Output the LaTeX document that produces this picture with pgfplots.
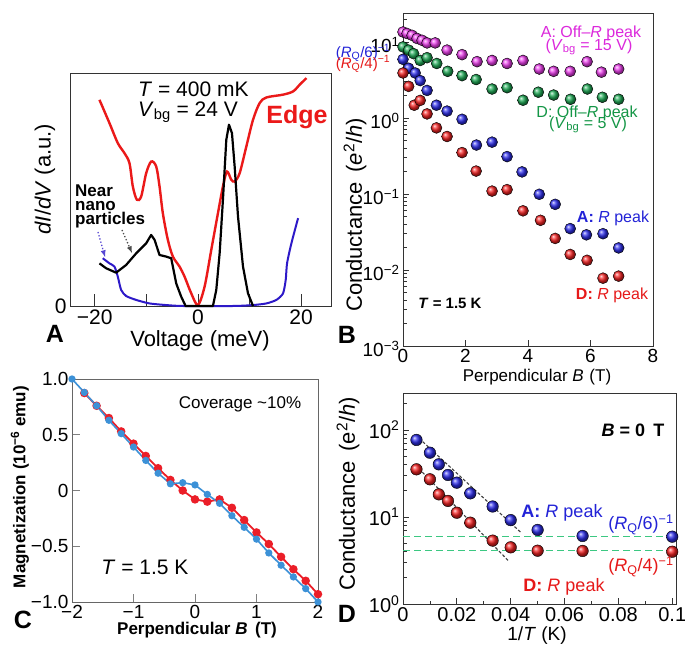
\documentclass[border=0pt]{standalone}
\usepackage{fontspec}
\setmainfont{Liberation Sans}
\usepackage{pgfplots}
\pgfplotsset{compat=1.18}
\definecolor{aRed}{RGB}{235,25,25}
\definecolor{aBlue}{RGB}{45,25,200}
\definecolor{bMag}{RGB}{235,60,235}
\definecolor{bGreen}{RGB}{30,170,85}
\definecolor{bBlue}{RGB}{45,45,235}
\definecolor{bRed}{RGB}{245,35,35}
\definecolor{tMag}{RGB}{220,40,220}
\definecolor{tGreen}{RGB}{20,150,70}
\definecolor{tBlue}{RGB}{35,35,215}
\definecolor{tRed}{RGB}{230,25,25}
\definecolor{cRed}{RGB}{235,30,40}
\definecolor{cBlue}{RGB}{60,145,215}
\definecolor{dGreen}{RGB}{60,200,130}
\newcommand{\fs}[1]{\fontsize{#1}{#1}\selectfont}
\pgfplotsset{
  panel/.style={scale only axis, anchor=south west, clip=false,
    tick align=inside, xtick pos=bottom, ytick pos=left,
    axis line style={line width=0.9pt, black!80},
    tick style={line width=0.8pt, black!80}},
}
\begin{document}
\begin{tikzpicture}[x=1pt,y=1pt]
\useasboundingbox (0,0) rectangle (685,645);
\fill[white] (0,0) rectangle (685,645);

% ---------------- Panel A ----------------
\begin{axis}[panel, at={(70pt,339pt)}, width=261pt, height=233pt,
  xmin=-24.8, xmax=25.8, ymin=0, ymax=1,
  xtick={-20,0,20}, xticklabels={−20,0,20}, minor xtick={-10,10},
  ytick={0}, yticklabels={0},
  major tick length=12pt, minor tick length=12pt,
  ticklabel style={font=\fs{21}}]
\addplot[aBlue, line width=2pt, smooth, tension=0.4] coordinates {
(-18.45,0.205) (-17.15,0.183) (-16.18,0.169) (-15.53,0.126) (-14.89,0.069)
(-13.92,0.043) (-11.97,0.026) (-9.39,0.011) (-6.15,0.004) (-2.91,0)
(6.80,0) (10.68,0.004) (13.27,0.011) (15.21,0.026) (16.50,0.054)
(17.02,0.112) (17.28,0.183) (18.12,0.269) (19.42,0.377)};
\addplot[aRed, line width=2.4pt, smooth, tension=0.5] coordinates {
(-19.09,0.885) (-17.15,0.785) (-15.53,0.699) (-14.24,0.656) (-13.27,0.613)
(-12.62,0.513) (-11.84,0.456) (-11.00,0.470) (-10.03,0.570) (-9.06,0.620)
(-8.09,0.599) (-7.44,0.513) (-6.80,0.398) (-5.83,0.284) (-4.85,0.212)
(-3.56,0.169) (-2.59,0.126) (-1.29,0.054) (0,0.004) (1.29,0.083)
(2.59,0.241) (3.88,0.398) (4.85,0.513) (5.63,0.577) (6.47,0.542)
(7.12,0.534) (8.09,0.570) (9.39,0.685) (10.68,0.799) (11.97,0.871)
(13.27,0.895) (16.50,0.907) (18.45,0.921) (19.74,0.950) (21.04,0.978)};
\addplot[black, line width=2.2pt, line join=round] coordinates {
(-19.09,0.183) (-17.8,0.162) (-15.86,0.143) (-13.92,0.176) (-11.97,0.226)
(-10.03,0.269) (-9.06,0.305) (-8.41,0.284) (-7.44,0.219) (-6.15,0.212)
(-5.18,0.205) (-4.21,0.097) (-3.24,0.040) (-2.39,0) (2.91,0)
(3.56,0.069) (4.21,0.226) (4.85,0.456) (5.50,0.713) (6.02,0.778)
(6.60,0.742) (7.12,0.599) (7.77,0.384) (8.74,0.169) (9.71,0.054) (10.68,0)};
\end{axis}
\node[rotate=90, font=\fs{22}] at (45,466) {\textit{dI}/\textit{dV} (a.u.)};
\node[font=\fs{22}] at (200,304) {Voltage (meV)};
\node[anchor=west, font=\fs{21}, inner sep=0] at (138,556) {\textit{T} = 400 mK};
\node[anchor=west, font=\fs{21}, inner sep=0] at (138,533) {\textit{V}\textsubscript{bg} = 24 V};
\node[aRed, font=\bfseries\fs{25}] at (297,528) {Edge};
\node[anchor=base west, font=\bfseries\fs{17}, inner sep=0] at (75,448) {Near};
\node[anchor=base west, font=\bfseries\fs{17}, inner sep=0] at (75,434) {nano};
\node[anchor=base west, font=\bfseries\fs{17}, inner sep=0] at (75,420) {particles};
\draw[aBlue!80, dotted, line width=1.3pt, -latex] (98,413) -- (105,388);
\draw[black!70, dotted, line width=1.3pt, -latex] (122,415) -- (132,392);
\node[font=\bfseries\fs{25}] at (55,311) {A};

% ---------------- Panel B ----------------
\begin{axis}[panel, at={(403pt,299pt)}, width=250pt, height=333pt,
  ymode=log, xmin=0, xmax=8, ymin=1e-3, ymax=24,
  xtick={0,2,4,6,8}, xticklabels={0,2,4,6,8},
  ytick={1e-3,1e-2,1e-1,1,10},
  yticklabels={10\textsuperscript{−3},10\textsuperscript{−2},10\textsuperscript{−1},10\textsuperscript{0},10\textsuperscript{1}},
  minor ytick={2e-3,3e-3,4e-3,5e-3,6e-3,7e-3,8e-3,9e-3,2e-2,3e-2,4e-2,5e-2,6e-2,7e-2,8e-2,9e-2,0.2,0.3,0.4,0.5,0.6,0.7,0.8,0.9,2,3,4,5,6,7,8,9,20},
  major tick length=6pt, minor tick length=3.5pt,
  ticklabel style={font=\fs{19}},
  yticklabel style={yshift=-3pt}]
\addplot[only marks, mark=ball, mark size=5.5pt, mark options={ball color=bMag}] coordinates {
(0,13.5) (0.13,12.9) (0.29,12.2) (0.45,11.1) (0.61,10.5) (0.77,9.7) (1.03,9.7)
(1.41,7.8) (1.89,6.8) (2.37,5.5) (2.85,5.7) (3.33,5.2) (3.84,5.7) (4.36,4.4)
(4.82,4.1) (5.35,4.1) (5.89,5.5) (6.35,4.0) (6.90,4.4)};
\addplot[only marks, mark=ball, mark size=5.5pt, mark options={ball color=bGreen}] coordinates {
(0,8.6) (0.18,7.8) (0.34,7.0) (0.55,5.7) (0.77,6.2) (1.08,5.2) (1.43,4.1)
(1.89,3.6) (2.34,3.2) (2.85,2.4) (3.33,2.5) (3.84,1.71) (4.33,2.18) (4.82,2.0)
(5.36,1.76) (5.90,2.4) (6.38,1.87) (6.90,1.76)};
\addplot[only marks, mark=ball, mark size=5.5pt, mark options={ball color=bBlue}] coordinates {
(0,5.9) (0.18,4.5) (0.39,3.9) (0.55,3.1) (0.77,2.3) (1.07,1.47) (1.41,1.23)
(1.89,0.96) (2.35,0.44) (2.85,0.48) (3.33,0.31) (3.81,0.195) (4.36,0.099)
(4.87,0.073) (5.35,0.035) (5.87,0.029) (6.40,0.030) (6.90,0.0195)};
\addplot[only marks, mark=ball, mark size=5.5pt, mark options={ball color=bRed}] coordinates {
(0,3.9) (0.18,2.6) (0.36,1.47) (0.55,1.7) (0.77,1.13) (1.07,0.74) (1.41,0.57)
(1.89,0.35) (2.34,0.20) (2.85,0.109) (3.33,0.114) (3.84,0.060) (4.40,0.045)
(4.87,0.026) (5.35,0.016) (5.89,0.0134) (6.40,0.0078) (6.90,0.0083)};
\end{axis}
\node[rotate=90, font=\fs{22}] at (355,430) {Conductance \,(\textit{e}\textsuperscript{2}/\textit{h})};
\node[font=\fs{17}] at (537,268) {Perpendicular \textit{B}\,\,(T)};
\node[tBlue, font=\fs{15}, inner sep=0] at (363,592) {(\textit{R}\textsubscript{Q}/6)\textsuperscript{−1}};
\node[tRed, font=\fs{15}, inner sep=0] at (363,581) {(\textit{R}\textsubscript{Q}/4)\textsuperscript{−1}};
\node[tMag, font=\fs{16}, inner sep=0] at (591,612) {A: Off–\textit{R} peak};
\node[tMag, font=\fs{16}, inner sep=0] at (589,598) {(\textit{V}\textsubscript{bg} = 15 V)};
\node[tGreen, font=\fs{16}, inner sep=0] at (587,532) {D: Off–\textit{R} peak};
\node[tGreen, font=\fs{16}, inner sep=0] at (588,520) {(\textit{V}\textsubscript{bg} = 5 V)};
\node[tBlue, font=\fs{16}, inner sep=0] at (613,427) {\textbf{A:} \textit{R} peak};
\node[tRed, font=\fs{16}, inner sep=0] at (612,350) {\textbf{D:} \textit{R} peak};
\node[font=\bfseries\fs{15}, inner sep=0] at (450,342) {\textit{T} = 1.5 K};
\node[font=\bfseries\fs{25}] at (347,310) {B};

% ---------------- Panel C ----------------
\begin{axis}[panel, at={(72pt,43pt)}, width=246pt, height=223pt,
  xmin=-2, xmax=2, ymin=-1, ymax=1,
  xtick={-2,-1,0,1,2}, xticklabels={−2,−1,0,1,2},
  ytick={-1,-0.5,0,0.5,1}, yticklabels={−1.0,−0.5,0,0.5,1.0},
  major tick length=8pt,
  axis line style={line width=0.9pt, black!60},
  tick style={line width=0.8pt, black!50},
  ticklabel style={font=\fs{19}}]
\addplot[cRed, line width=1.8pt, mark=*, mark size=3.3pt] coordinates {
(-1.8,0.874) (-1.6,0.76) (-1.4,0.65) (-1.2,0.53) (-1.0,0.42) (-0.8,0.31)
(-0.6,0.20) (-0.4,0.095) (-0.2,0.0) (0.0,-0.08) (0.2,-0.10) (0.4,-0.08)
(0.6,-0.155) (0.8,-0.265) (1.0,-0.376) (1.2,-0.48) (1.4,-0.595) (1.6,-0.706)
(1.8,-0.81) (2.0,-0.93)};
\addplot[cBlue, line width=1.6pt, mark=*, mark size=2.8pt] coordinates {
(-2.0,1.0) (-1.8,0.88) (-1.6,0.76) (-1.4,0.63) (-1.2,0.51) (-1.0,0.39)
(-0.8,0.27) (-0.6,0.155) (-0.4,0.06) (-0.2,0.07) (0.0,0.05) (0.2,-0.035)
(0.4,-0.115) (0.6,-0.226) (0.8,-0.33) (1.0,-0.436) (1.2,-0.56) (1.4,-0.67)
(1.6,-0.775) (1.8,-0.88) (2.0,-1.0)};
\end{axis}
\node[rotate=90, font=\bfseries\fs{17}] at (20,158) {Magnetization (10\textsuperscript{−6} emu)};
\node[font=\bfseries\fs{17}] at (197,15) {Perpendicular \textit{B}\, (T)};
\node[font=\fs{17}] at (240,241) {Coverage \textasciitilde10\%};
\node[font=\fs{21}] at (145,78) {\textit{T} = 1.5 K};
\node[font=\bfseries\fs{25}] at (23,25) {C};

% ---------------- Panel D ----------------
\begin{axis}[panel, at={(403pt,41pt)}, width=273pt, height=211pt,
  ymode=log, xmin=0, xmax=0.1014, ymin=1, ymax=266,
  xtick={0,0.02,0.04,0.06,0.08,0.1}, xticklabels={0,0.02,0.04,0.06,0.08,0.1},
  minor xtick={0.01,0.03,0.05,0.07,0.09},
  ytick={1,10,100},
  yticklabels={10\textsuperscript{0},10\textsuperscript{1},10\textsuperscript{2}},
  minor ytick={2,3,4,5,6,7,8,9,20,30,40,50,60,70,80,90,200},
  major tick length=6pt, minor tick length=3.5pt,
  ticklabel style={font=\fs{20}}]
\addplot[dGreen, line width=1.5pt, dash pattern=on 7pt off 4pt] coordinates {(0,5.94) (0.1014,5.94)};
\addplot[dGreen, line width=1.5pt, dash pattern=on 7pt off 4pt] coordinates {(0,4.10) (0.1014,4.10)};
\addplot[black!75, line width=1.1pt, dash pattern=on 3pt off 2pt] coordinates {(0.0046,87.7) (0.0441,6.5)};
\addplot[black!75, line width=1.1pt, dash pattern=on 3pt off 2pt] coordinates {(0.0046,39.6) (0.0391,3.15)};
\addplot[only marks, mark=ball, mark size=5.8pt, mark options={ball color=bBlue}] coordinates {
(0.005,76.8) (0.01,54.8) (0.0133,40.3) (0.0167,30.4) (0.02,24.8) (0.025,18.7)
(0.0333,13.2) (0.04,9.2) (0.05,7.1) (0.0667,6.05) (0.1,5.94)};
\addplot[only marks, mark=ball, mark size=5.8pt, mark options={ball color=bRed}] coordinates {
(0.005,35.3) (0.01,27.1) (0.0133,18.2) (0.0167,15.3) (0.02,11.2) (0.025,8.6)
(0.0333,5.35) (0.04,4.48) (0.05,4.10) (0.0667,4.07) (0.1,3.99)};
\end{axis}
\node[rotate=90, font=\fs{22}] at (348,151) {Conductance \,(e\textsuperscript{2}/\textit{h})};
\node[font=\fs{19}] at (537,9) {1/\textit{T} (K)};
\node[font=\bfseries\fs{18}, inner sep=0] at (633,215) {\textit{B} = 0 \,T};
\node[tBlue, font=\fs{18}, inner sep=0] at (562,132) {\textbf{A:} \textit{R} peak};
\node[tBlue, font=\fs{18}, inner sep=0] at (641,120) {(\textit{R}\textsubscript{Q}/6)\textsuperscript{−1}};
\node[tRed, font=\fs{18}, inner sep=0] at (564,58) {\textbf{D:} \textit{R} peak};
\node[tRed, font=\fs{18}, inner sep=0] at (641,78) {(\textit{R}\textsubscript{Q}/4)\textsuperscript{−1}};
\node[font=\bfseries\fs{25}] at (347,31) {D};
\end{tikzpicture}
\end{document}
